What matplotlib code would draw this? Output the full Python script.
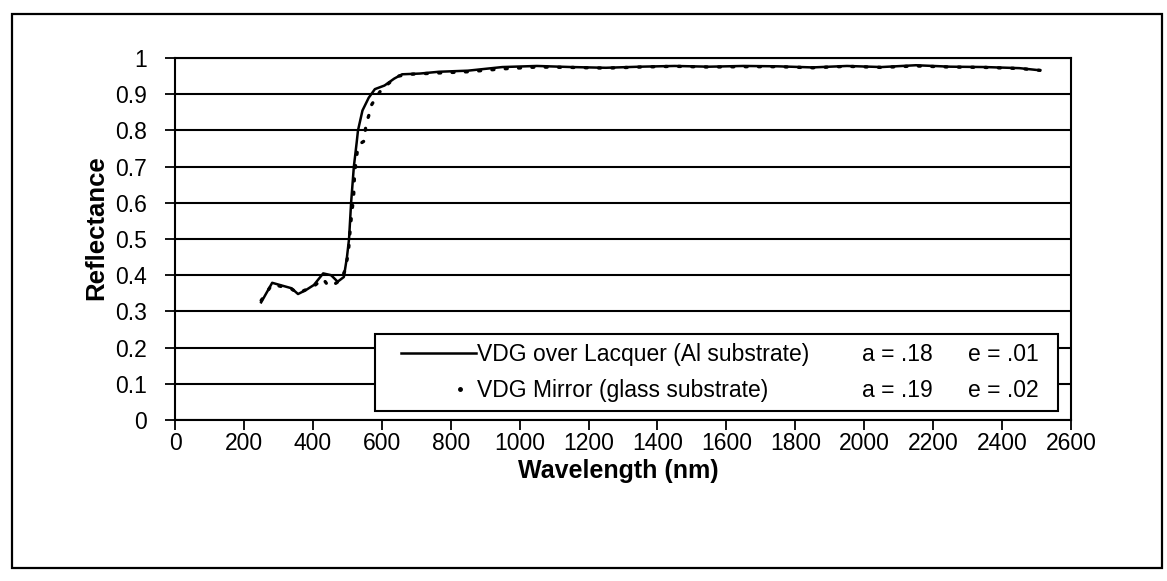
import matplotlib
matplotlib.use("Agg")
import matplotlib.pyplot as plt
from matplotlib.patches import Rectangle
from matplotlib.lines import Line2D
from matplotlib.legend_handler import HandlerLine2D

# ---- data ----
wl_lacquer = [250, 282, 338, 357, 380, 403, 430, 453, 472, 490, 499, 505, 511, 519,
              527, 531, 544, 562, 580, 608, 636, 659, 710, 766, 850, 950, 1050, 1150,
              1250, 1350, 1450, 1550, 1650, 1750, 1850, 1950, 2050, 2150, 2250, 2350,
              2450, 2510]
r_lacquer = [0.325, 0.379, 0.364, 0.348, 0.359, 0.373, 0.405, 0.400, 0.382, 0.395,
             0.45, 0.50, 0.60, 0.70, 0.765, 0.80, 0.855, 0.89, 0.914, 0.924, 0.943,
             0.955, 0.957, 0.962, 0.965, 0.975, 0.978, 0.975, 0.973, 0.976, 0.978,
             0.976, 0.978, 0.977, 0.974, 0.978, 0.975, 0.980, 0.976, 0.975, 0.972,
             0.966]

wl_mirror = [250, 282, 338, 357, 380, 403, 430, 445, 462, 480, 492, 498, 503, 506,
             513, 518, 521, 530, 540, 548, 555, 562, 570, 583, 597, 620, 648, 680,
             750, 850, 950, 1050, 1150, 1250, 1350, 1450, 1550, 1650, 1750, 1850,
             1950, 2050, 2150, 2250, 2350, 2450, 2510]
r_mirror = [0.33, 0.375, 0.362, 0.350, 0.360, 0.370, 0.39, 0.37, 0.375, 0.386,
            0.41, 0.437, 0.46, 0.50, 0.574, 0.61, 0.68, 0.75, 0.765, 0.77, 0.82,
            0.84, 0.87, 0.89, 0.91, 0.93, 0.95, 0.955, 0.958, 0.962, 0.970, 0.975,
            0.974, 0.972, 0.975, 0.977, 0.975, 0.976, 0.976, 0.973, 0.977, 0.974,
            0.978, 0.975, 0.974, 0.971, 0.966]

series_labels = ["VDG over Lacquer (Al substrate)", "VDG Mirror (glass substrate)"]
absorptance = ["a = .18", "a = .19"]
emittance = ["e = .01", "e = .02"]

x_ticks = [0, 200, 400, 600, 800, 1000, 1200, 1400, 1600, 1800, 2000, 2200, 2400, 2600]
y_ticks = [0, 0.1, 0.2, 0.3, 0.4, 0.5, 0.6, 0.7, 0.8, 0.9, 1.0]
y_tick_labels = ["0", "0.1", "0.2", "0.3", "0.4", "0.5", "0.6", "0.7", "0.8", "0.9", "1"]
x_label = "Wavelength (nm)"
y_label = "Reflectance"

# ---- figure ----
plt.rcParams['font.family'] = ['Liberation Sans', 'DejaVu Sans']
W, H = 1167, 581
fig = plt.figure(figsize=(W / 100, H / 100), dpi=100)
FS = 16.5


def fx(px):
    return px / W


def fy(py):
    return 1 - py / H


# outer frame
fig.patches.append(Rectangle((fx(12), fy(568)), fx(1162) - fx(12), fy(14) - fy(568),
                             transform=fig.transFigure, fill=False,
                             edgecolor='black', linewidth=1.6))

ax = fig.add_axes([fx(175), fy(420), fx(1071) - fx(175), fy(58) - fy(420)])

line1, = ax.plot(wl_lacquer, r_lacquer, color='black', linewidth=1.8,
                 label=series_labels[0])
line2, = ax.plot(wl_mirror, r_mirror, color='black', linewidth=2.4,
                 linestyle=(0, (0.6, 3.4)), dash_capstyle='round',
                 label=series_labels[1])

ax.set_xlim(0, 2600)
ax.set_ylim(0, 1)
ax.set_xticks(x_ticks)
ax.set_xticklabels([str(t) for t in x_ticks])
ax.set_yticks(y_ticks)
ax.set_yticklabels(y_tick_labels)
ax.tick_params(axis='both', direction='out', length=7, width=1.3, labelsize=FS,
               color='black')
ax.tick_params(axis='y', pad=13)
ax.tick_params(axis='x', pad=2)
ax.grid(axis='y', color='black', linewidth=1.5)
ax.set_axisbelow(True)
for sp in ax.spines.values():
    sp.set_linewidth(1.5)
    sp.set_color('black')

fig.text(fx(96), fy(228), y_label, rotation=90, ha='center', va='center',
         fontsize=18.5, fontweight='bold')
fig.text(fx(618), fy(471), x_label, ha='center', va='center',
         fontsize=18, fontweight='bold')

# legend
proxy2 = Line2D([], [], color='black', linestyle='none', marker='o', markersize=2.5)
x0 = (375 - 175) / (1071 - 175)
x1 = (1058 - 175) / (1071 - 175)
y0 = (420 - 411) / (420 - 58)
leg = ax.legend([line1, proxy2], series_labels, loc='lower left',
                bbox_to_anchor=(x0, y0, x1 - x0, 0.2), mode='expand',
                borderaxespad=0, fontsize=FS, frameon=True, fancybox=False,
                edgecolor='black', framealpha=1, handlelength=4.0,
                handletextpad=0.05, labelspacing=0.55, borderpad=0.4,
                numpoints=1,
                handler_map={line1: HandlerLine2D(xpad=0.74),
                             proxy2: HandlerLine2D(xpad=2.66, numpoints=1)})
leg.get_frame().set_linewidth(1.5)

fig.canvas.draw()
inv = fig.transFigure.inverted()
for i, t in enumerate(leg.get_texts()):
    bb = t.get_window_extent()
    yc = inv.transform((0, (bb.y0 + bb.y1) / 2))[1]
    fig.text(fx(862), yc, absorptance[i], ha='left', va='center', fontsize=FS)
    fig.text(fx(968), yc, emittance[i], ha='left', va='center', fontsize=FS)

fig.savefig('out.png', dpi=100)
